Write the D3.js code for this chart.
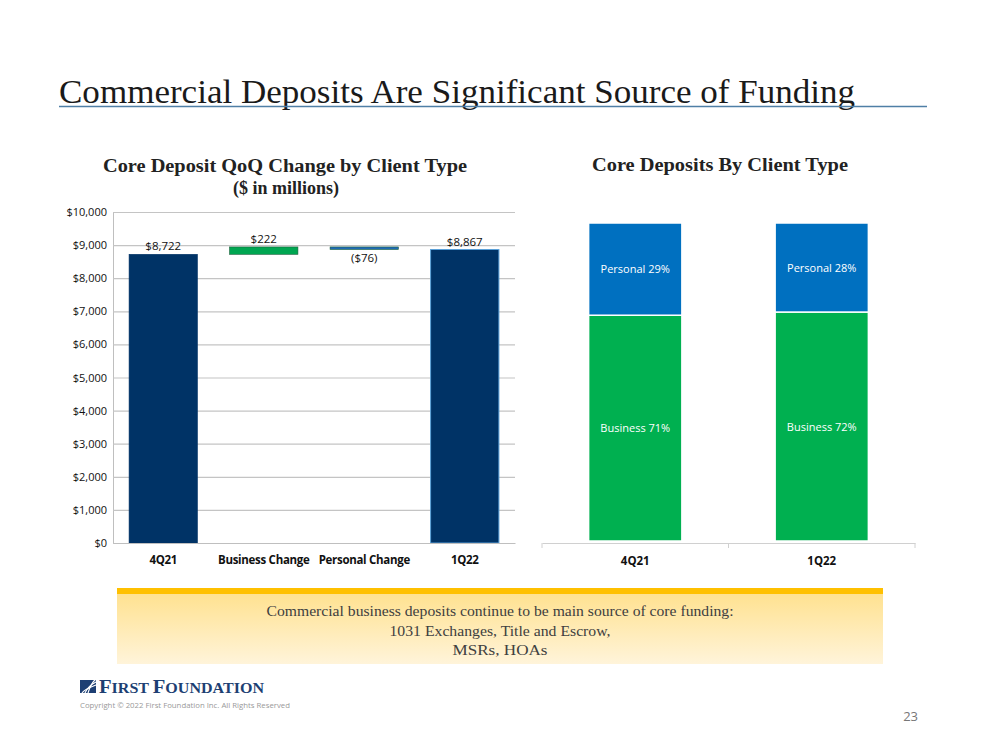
<!DOCTYPE html>
<html>
<head>
<meta charset="utf-8">
<script src="https://cdn.jsdelivr.net/npm/d3@7/dist/d3.min.js"></script>
<style>
  html, body { margin: 0; padding: 0; background: #fff; }
  svg { display: block; }
</style>
</head>
<body>
<svg id="chart" width="999" height="750"></svg>
<script>
// ---- data ----
const wfCategories = ["4Q21", "Business Change", "Personal Change", "1Q22"];
const wfValues = [8722, 222, -76, 8867];
const wfLabels = ["$8,722", "$222", "($76)", "$8,867"];
const wfTicks = [0, 1000, 2000, 3000, 4000, 5000, 6000, 7000, 8000, 9000, 10000];

const mixPeriods = ["4Q21", "1Q22"];
const businessPct = [71, 72];
const personalPct = [29, 28];

const boxLines = [
  "Commercial business  deposits continue to be main source of core funding:",
  "1031 Exchanges,  Title and Escrow,",
  "MSRs, HOAs"
];

const svg = d3.select("#chart");
const serif = "'Liberation Serif', 'DejaVu Serif', serif";
const sans = "'Open Sans', 'Noto Sans', sans-serif";

// ---- slide title ----
svg.append("text").attr("x", 59).attr("y", 103)
  .attr("font-family", serif).attr("font-size", 33).attr("fill", "#1a1a1a")
  .attr("textLength", 796).attr("lengthAdjust", "spacingAndGlyphs")
  .text("Commercial Deposits Are Significant Source of Funding");
svg.append("line").attr("x1", 59).attr("x2", 927).attr("y1", 106.5).attr("y2", 106.5)
  .attr("stroke", "#4f7fa6").attr("stroke-width", 1.3);

// ---- left waterfall chart ----
const L = { left: 113, right: 515, top: 212, bottom: 543 };
const x1 = d3.scaleBand().domain(wfCategories).range([L.left, L.right]).paddingInner(0.32).paddingOuter(0.16);
const y1 = d3.scaleLinear().domain([0, 10000]).range([L.bottom, L.top]);

svg.append("text").attr("x", 285).attr("y", 172).attr("text-anchor", "middle")
  .attr("font-family", serif).attr("font-weight", "bold").attr("font-size", 18).attr("fill", "#222")
  .attr("textLength", 364).attr("lengthAdjust", "spacingAndGlyphs")
  .text("Core Deposit QoQ Change by Client Type");
svg.append("text").attr("x", 286).attr("y", 194).attr("text-anchor", "middle")
  .attr("font-family", serif).attr("font-weight", "bold").attr("font-size", 18).attr("fill", "#222")
  .text("($ in millions)");

// gridlines
const gy = svg.append("g").attr("transform", `translate(${L.left},0)`)
  .call(d3.axisLeft(y1).tickValues(wfTicks).tickSize(-(L.right - L.left))
    .tickFormat(d => "$" + d3.format(",")(d)));
gy.select(".domain").attr("stroke", "#bfbfbf");
gy.selectAll(".tick line").attr("stroke", "#c4c4c4").attr("stroke-width", 1.2);
gy.selectAll(".tick text").attr("x", -6).attr("font-family", sans).attr("font-size", 11).attr("fill", "#111");

// waterfall computation
let running = 0;
const wf = wfCategories.map((c, i) => {
  let y0, y1v, color;
  if (i === 0 || i === wfCategories.length - 1) {
    y0 = 0; y1v = wfValues[i]; running = wfValues[i]; color = "#003366";
  } else {
    y0 = running; y1v = running + wfValues[i]; running = y1v;
    color = wfValues[i] >= 0 ? "#00A651" : "#1F6AB4";
  }
  return { c, v: wfValues[i], lo: Math.min(y0, y1v), hi: Math.max(y0, y1v), color, label: wfLabels[i] };
});

svg.append("g").selectAll("rect").data(wf).join("rect")
  .attr("x", d => x1(d.c)).attr("width", x1.bandwidth())
  .attr("y", d => y1(d.hi)).attr("height", d => y1(d.lo) - y1(d.hi))
  .attr("fill", d => d.color)
  .attr("stroke", (d, i) => i === 3 ? "#5aa0d8" : (i === 0 ? "#003366" : "#1a5f3a"))
  .attr("stroke-width", (d, i) => i === 3 ? 1 : 0.6);

svg.append("g").selectAll("text").data(wf).join("text")
  .attr("x", d => x1(d.c) + x1.bandwidth() / 2)
  .attr("y", d => d.v < 0 ? y1(d.lo) + 13 : y1(d.hi) - 4)
  .attr("text-anchor", "middle").attr("font-family", sans).attr("font-size", 11.5).attr("fill", "#111")
  .text(d => d.label);

const gx1 = svg.append("g").attr("transform", `translate(0,${L.bottom})`)
  .call(d3.axisBottom(x1).tickSize(0).tickPadding(13));
gx1.select(".domain").attr("stroke", "#bfbfbf").attr("stroke-width", 1.2);
gx1.selectAll(".tick text").attr("font-family", sans).attr("font-weight", "bold").attr("font-size", 11.5)
  .attr("fill", "#111").attr("letter-spacing", "-0.3");

// ---- right stacked chart ----
const R = { left: 542, right: 915, top: 223, bottom: 541 };
const x2 = d3.scaleBand().domain(mixPeriods).range([R.left, R.right]).paddingInner(0.5).paddingOuter(0.25);
const y2 = d3.scaleLinear().domain([0, 100]).range([R.bottom, R.top]);

svg.append("text").attr("x", 720).attr("y", 171).attr("text-anchor", "middle")
  .attr("font-family", serif).attr("font-weight", "bold").attr("font-size", 18).attr("fill", "#222")
  .attr("textLength", 256).attr("lengthAdjust", "spacingAndGlyphs")
  .text("Core Deposits By Client Type");

const stackData = mixPeriods.map((p, i) => ({ period: p, Business: businessPct[i], Personal: personalPct[i] }));
const series = d3.stack().keys(["Business", "Personal"])(stackData);
const segColors = { Business: "#00B050", Personal: "#0070C0" };

const sg = svg.append("g").selectAll("g").data(series).join("g").attr("fill", s => segColors[s.key]);
sg.selectAll("rect").data(s => s.map(d => ({ key: s.key, d }))).join("rect")
  .attr("x", o => x2(o.d.data.period)).attr("width", x2.bandwidth())
  .attr("y", o => y2(o.d[1])).attr("height", o => y2(o.d[0]) - y2(o.d[1]))
  .attr("stroke", "#fff").attr("stroke-width", 1.5);
sg.selectAll("text").data(s => s.map(d => ({ key: s.key, d }))).join("text")
  .attr("x", o => x2(o.d.data.period) + x2.bandwidth() / 2)
  .attr("y", o => (y2(o.d[0]) + y2(o.d[1])) / 2 + 4)
  .attr("text-anchor", "middle").attr("font-family", sans).attr("font-size", 11).attr("fill", "#fff")
  .text(o => `${o.key} ${o.d.data[o.key]}%`);

const gx2 = svg.append("g").attr("transform", `translate(0,${R.bottom + 2})`)
  .call(d3.axisBottom(x2).tickSize(0).tickPadding(14));
gx2.select(".domain").attr("stroke", "#d0d0d0").attr("stroke-width", 1);
gx2.selectAll(".tick text").attr("font-family", sans).attr("font-weight", "bold").attr("font-size", 11.5).attr("fill", "#111");
// category boundary ticks
const bounds = [R.left, (x2("4Q21") + x2("1Q22") + x2.bandwidth()) / 2, R.right];
svg.append("g").selectAll("line").data(bounds).join("line")
  .attr("x1", d => d).attr("x2", d => d).attr("y1", R.bottom + 2).attr("y2", R.bottom + 7)
  .attr("stroke", "#d0d0d0");

// ---- callout box ----
const defs = svg.append("defs");
const grad = defs.append("linearGradient").attr("id", "boxg").attr("x1", 0).attr("x2", 0).attr("y1", 0).attr("y2", 1);
grad.append("stop").attr("offset", "0%").attr("stop-color", "#FFE08A");
grad.append("stop").attr("offset", "100%").attr("stop-color", "#FFF4DA");
svg.append("rect").attr("x", 117).attr("y", 588).attr("width", 766).attr("height", 76).attr("fill", "url(#boxg)");
svg.append("rect").attr("x", 117).attr("y", 588).attr("width", 766).attr("height", 6).attr("fill", "#FFC000");
svg.append("g").selectAll("text").data(boxLines).join("text")
  .attr("x", 500).attr("y", (d, i) => 616 + i * 19.5).attr("text-anchor", "middle")
  .attr("font-family", serif).attr("font-size", 15).attr("fill", "#404040")
  .attr("textLength", (d, i) => [467, 221, 95][i]).attr("lengthAdjust", "spacingAndGlyphs")
  .text(d => d);

// ---- logo & footer ----
const logo = svg.append("g").attr("transform", "translate(80,680)");
logo.append("rect").attr("x", 0).attr("y", 0).attr("width", 16).attr("height", 13).attr("fill", "#1d3f73");
[3, 6, 9].forEach(k => {
  logo.append("path").attr("d", `M${k - 1},13 Q${k + 2},${12 - k} 16,${8 - k}`)
    .attr("fill", "none").attr("stroke", "#fff").attr("stroke-width", 1.2);
});
const logoText = svg.append("text").attr("x", 99).attr("y", 693)
  .attr("font-family", serif).attr("font-weight", "bold").attr("fill", "#1d3f73")
  .attr("textLength", 165).attr("lengthAdjust", "spacingAndGlyphs");
[["F", 18], ["IRST ", 14], ["F", 18], ["OUNDATION", 14]].forEach(([t, s]) =>
  logoText.append("tspan").attr("font-size", s).text(t));
svg.append("text").attr("x", 80).attr("y", 708)
  .attr("font-family", sans).attr("font-size", 7.5).attr("fill", "#999")
  .attr("textLength", 210).attr("lengthAdjust", "spacingAndGlyphs")
  .text("Copyright © 2022 First Foundation Inc. All Rights Reserved");
svg.append("text").attr("x", 918).attr("y", 721).attr("text-anchor", "end")
  .attr("font-family", sans).attr("font-size", 13).attr("fill", "#777")
  .text("23");
</script>
</body>
</html>
